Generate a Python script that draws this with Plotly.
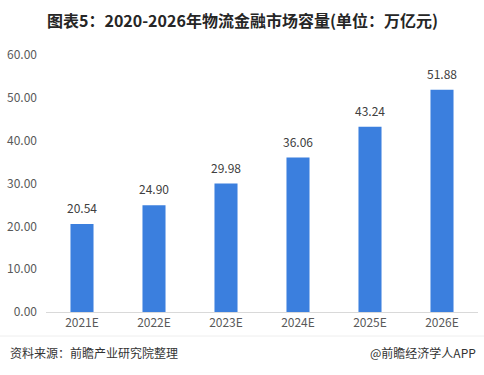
import plotly.graph_objects as go

categories = ["2021E", "2022E", "2023E", "2024E", "2025E", "2026E"]
values = [20.54, 24.90, 29.98, 36.06, 43.24, 51.88]
value_labels = ["20.54", "24.90", "29.98", "36.06", "43.24", "51.88"]
y_ticks = [0, 10, 20, 30, 40, 50, 60]
y_tick_labels = ["0.00", "10.00", "20.00", "30.00", "40.00", "50.00", "60.00"]

font_family = "Microsoft YaHei, Noto Sans CJK SC, Liberation Sans, sans-serif"

W, H = 484, 375
ML, MR, MT, MB = 46, 6, 55, 63
plot_w = W - ML - MR
plot_h = H - MT - MB


def px_x(x):
    return (x - ML) / plot_w


def px_y(y):
    return (H - MB - y) / plot_h


fig = go.Figure()
fig.add_trace(go.Bar(
    x=categories, y=values,
    marker=dict(color="#3b7fde", line=dict(width=0)),
    width=0.32,
    hoverinfo="skip",
))

annotations = [
    dict(text="<b>图表5：2020-2026年物流金融市场容量(单位：万亿元)</b>",
         x=px_x(242), y=px_y(20), xref="paper", yref="paper",
         xanchor="center", yanchor="middle", showarrow=False,
         font=dict(size=16, color="#262626", family=font_family)),
    dict(text="资料来源：前瞻产业研究院整理", x=px_x(8), y=px_y(353),
         xref="paper", yref="paper", showarrow=False,
         xanchor="left", yanchor="middle",
         font=dict(size=12, color="#333333", family=font_family)),
    dict(text="@前瞻经济学人APP", x=px_x(478), y=px_y(353),
         xref="paper", yref="paper", showarrow=False,
         xanchor="right", yanchor="middle",
         font=dict(size=12, color="#333333", family=font_family)),
]
for c, v, t in zip(categories, values, value_labels):
    annotations.append(dict(
        x=c, y=v, xref="x", yref="y", text=t, showarrow=False,
        xanchor="center", yanchor="bottom", yshift=6,
        font=dict(size=12, color="#404040", family=font_family)))

fig.update_layout(
    width=W, height=H,
    margin=dict(l=ML, r=MR, t=MT, b=MB, autoexpand=False),
    paper_bgcolor="white", plot_bgcolor="white",
    showlegend=False,
    font=dict(family=font_family, color="#595959", size=12),
    xaxis=dict(
        showgrid=False, showline=True, linecolor="#d9d9d9", linewidth=1,
        ticks="", tickfont=dict(size=12, color="#595959"), automargin=False,
    ),
    yaxis=dict(
        range=[0, 60], tickvals=y_ticks, ticktext=y_tick_labels,
        showgrid=False, zeroline=False, showline=False,
        ticks="", tickfont=dict(size=12, color="#595959"),
        ticklabelstandoff=8, automargin=False,
    ),
    annotations=annotations,
)

fig.add_shape(type="line", xref="paper", yref="paper",
              x0=px_x(0), x1=px_x(W), y0=px_y(336), y1=px_y(336),
              line=dict(color="#eeeeee", width=1))

fig.write_html("out.html", config={"displayModeBar": False},
               post_script="document.body.style.margin='0';document.body.style.overflow='hidden';")
